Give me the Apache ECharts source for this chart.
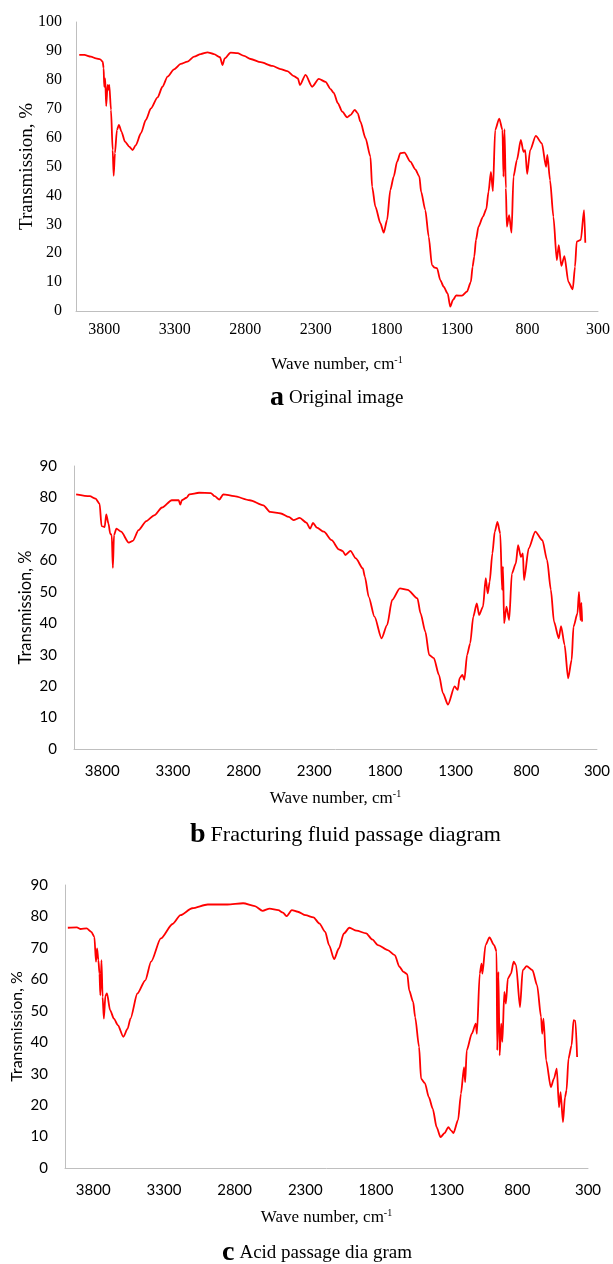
<!DOCTYPE html>
<html><head><meta charset="utf-8">
<script src="https://cdn.jsdelivr.net/npm/echarts@6/dist/echarts.min.js"></script>
<style>html,body{margin:0;padding:0;background:#fff;}#c{width:613px;height:1264px;}</style>
</head><body><div id="c"></div>
<script>
// ---- data (wavenumber cm-1, transmission %) ----
const waveA = [3977,3941,3894,3859,3828,3811,3804,3800,3793,3786,3776,3769,3764,3752,3740,3733,3724,3710,3696,3677,3653,3623,3599,3576,3540,3505,3469,3422,3387,3351,3305,3257,3210,3163,3116,3068,3022,2979,2962,2946,2904,2856,2809,2762,2691,2608,2550,2502,2456,2427,2413,2373,2326,2279,2231,2196,2173,2144,2113,2078,2055,2024,2003,1984,1948,1913,1901,1878,1842,1819,1795,1772,1748,1724,1701,1672,1630,1595,1566,1554,1524,1500,1477,1458,1441,1418,1394,1366,1347,1328,1305,1264,1229,1201,1189,1177,1165,1147,1116,1092,1076,1059,1045,1029,1000,977,970,963,953,946,930,913,899,875,847,828,816,802,781,741,698,668,659,640,616,592,578,560,538,510,479,463,451,422,399,390];
const transA = [88.6,88.6,88,87.4,87.1,86.3,84,77.6,80.5,70.9,78.2,76.5,78.2,69.6,55.7,46.8,54.6,62.6,64.4,62,58.6,56.9,55.7,57.4,61.5,66.1,70.1,73.9,77.6,81.1,83.6,85.5,86.3,88,88.9,89.5,88.9,87.8,85.1,87.4,89.4,89.2,88.3,87.2,86.1,84.8,83.7,83,81.3,80.5,78.2,81.7,77.6,80.3,79.3,76.8,75.5,71.9,69,67,67.8,69.6,68.4,65.5,59.8,53.4,43,36.1,30.3,27.1,31.5,41.9,46.5,51.7,54.6,54.8,51.7,49,46.5,41.3,34.9,25.7,15.9,15,14.8,10.7,8.4,6.1,1.5,3.8,5.4,5.3,6.7,10.1,15.3,18.8,24.6,29.2,32.6,35.2,41.3,48.1,41.5,62.6,66.6,62.6,46.5,62.9,42.5,29.2,33.2,27.1,46.5,52.2,59.2,55.1,55.7,47.4,55.7,60.6,58,49.9,54,45.3,32.6,17.6,22.8,15.6,19,10.1,7.5,15.3,24,24.6,34.9,23.6];

const waveB = [3985,3888,3847,3819,3805,3783,3772,3756,3744,3733,3725,3717,3700,3667,3612,3584,3543,3488,3433,3377,3308,3259,3248,3237,3204,3184,3115,3032,3005,2972,2944,2867,2756,2660,2613,2536,2480,2447,2403,2356,2329,2309,2282,2232,2177,2127,2100,2080,2044,2006,1956,1942,1915,1874,1824,1785,1749,1694,1639,1570,1548,1514,1487,1454,1418,1390,1354,1307,1285,1272,1252,1238,1219,1197,1175,1150,1134,1106,1087,1073,1059,1040,1023,1004,984,971,965,957,940,921,902,874,858,838,824,816,783,736,686,653,626,604,570,554,529,504,479,466,438,427,416,410,405];
const transB = [81,80.4,79.6,78,70.9,70.6,74.6,71.7,68.5,68,57.6,68,70.1,69.1,65.6,66.2,69.6,72.5,74.3,76.8,79.1,79.1,77.7,79.1,79.9,81,81.5,81.4,80.4,79.3,81,80.4,79.1,77.5,75.4,74.9,73.8,72.8,73.5,72,70.1,71.9,70.4,69.1,66.4,63.5,63,61.7,63,60.6,57.4,54.8,48.4,42.1,35.2,39.4,47.4,51.1,50.6,47.9,43.1,37.3,29.9,28.9,23.6,17.8,14.1,19.9,18.8,22.5,23.6,22,29.9,33.6,42.1,46.3,42.6,45.3,54.3,49.5,53.2,62.2,69.1,72.2,68.5,50.6,58,40,45.3,41,55.8,59,64.8,61.1,62.2,53.7,63.8,69.1,66.4,60.1,50.6,40.5,35.2,39.1,33.1,22.5,28.3,38.9,43.1,50,41,46.5,40.5];

const waveC = [3980,3916,3889,3847,3814,3792,3781,3773,3764,3756,3750,3742,3734,3725,3714,3703,3681,3654,3626,3587,3557,3537,3488,3432,3391,3322,3239,3183,3100,2990,2851,2740,2657,2602,2552,2491,2458,2433,2395,2353,2298,2242,2201,2159,2132,2096,2063,2027,1988,1938,1869,1827,1786,1717,1667,1634,1606,1578,1565,1537,1523,1495,1481,1454,1426,1398,1371,1343,1315,1288,1268,1252,1219,1199,1177,1169,1158,1122,1094,1086,1066,1053,1047,1025,997,964,947,942,934,925,914,906,892,881,867,845,826,809,781,762,734,693,660,632,624,615,596,563,541,521,505,494,477,463,452,438,416,402,389,377];
const transC = [76.4,76.5,76,76.2,75.1,73.5,65.6,69.8,66.1,61.8,54.9,66.1,54.4,47.5,54.9,55.5,50.2,47.5,45.4,41.7,44.3,47.5,55.5,59.7,65.6,73,77.6,80.4,82.6,83.8,83.8,84.2,83.3,81.8,82.5,82,81.2,80.1,82,81.5,80.4,79.7,77.8,75.1,70.9,66.4,69.8,74.6,76.4,75.5,74.6,72.7,70.9,69.3,67.7,64,62.4,61.6,56.5,52.8,48,38.5,28.4,27,22.5,18.8,13,9.8,11.1,13,11.9,11.1,15.3,23.6,32.1,27.3,37.4,42.7,45.9,42.7,61.8,65,61.8,70.9,73.3,70.9,68.8,37.4,62.4,35.8,45.9,40.1,56,52.3,60.3,61.8,65.6,64.5,51.2,62.9,64.2,62.9,58.1,48,42.7,47.5,34.2,25.7,28.4,31.6,19.3,24.1,14.6,22.5,24.7,34.8,39,47,46.8,35.3];

const xTickLabels = [3800,3300,2800,2300,1800,1300,800,300];
const captions = [['a','Original image'],['b','Fracturing fluid passage diagram'],['c','Acid passage dia gram']];
const yMax = [100, 90, 90];

// ---- layout ----
const SERIF = 'Liberation Serif';
const SANS = 'Lato';
const panels = [
  {grid:{left:76,right:15,top:22,height:289}, font:SERIF, tickSize:16, yLabelMargin:14, xLabelMargin:11, yNameFont:SERIF, yNameSize:19, yNameGap:39, xNameGap:44, capLeft:270, capTop:384, capSize:19},
  {grid:{left:74,right:16,top:466,height:283}, font:SANS, tickSize:15, yLabelMargin:17, xLabelMargin:15, yNameFont:SANS, yNameSize:16.5, yNameGap:40, xNameGap:40, capLeft:190, capTop:821, capSize:22},
  {grid:{left:65,right:25,top:885,height:283}, font:SANS, tickSize:15, yLabelMargin:17, xLabelMargin:15, yNameFont:SANS, yNameSize:16, yNameGap:40, xNameGap:40, capLeft:222, capTop:1239, capSize:19}
];
const waves = [waveA, waveB, waveC];
const trans = [transA, transB, transC];

const option = {
  animation:false,
  backgroundColor:'#fff',
  title: panels.map((p,i)=>({
    text:'{b|'+captions[i][0]+'} {t|'+captions[i][1]+'}',
    left:p.capLeft, top:p.capTop, padding:0,
    textStyle:{fontWeight:'normal',rich:{
      b:{fontFamily:SERIF,fontWeight:'bold',fontSize:28,color:'#000'},
      t:{fontFamily:SERIF,fontWeight:'normal',fontSize:p.capSize,color:'#000'}
    }}
  })),
  grid: panels.map(p=>p.grid),
  xAxis: panels.map((p,i)=>({
    gridIndex:i, type:'value', inverse:true, min:300, max:4000, interval:100,
    axisLine:{show:true,lineStyle:{color:'#bfbfbf',width:1}},
    axisTick:{show:false}, splitLine:{show:false},
    axisLabel:{fontFamily:p.font,fontSize:p.tickSize,color:'#000',margin:p.xLabelMargin,
      showMaxLabel:false,
      formatter:v=> xTickLabels.indexOf(v)>=0 ? String(v) : ''},
    name:'Wave number, cm{s|-1}', nameLocation:'middle', nameGap:p.xNameGap,
    nameTextStyle:{fontFamily:SERIF,fontSize:17,color:'#000',
      rich:{s:{fontFamily:SERIF,fontSize:10,color:'#000',padding:[0,0,9,0]}}}
  })),
  yAxis: panels.map((p,i)=>({
    gridIndex:i, type:'value', min:0, max:yMax[i], interval:10,
    axisLine:{show:true,lineStyle:{color:'#bfbfbf',width:1}},
    axisTick:{show:false}, splitLine:{show:false},
    axisLabel:{fontFamily:p.font,fontSize:p.tickSize,color:'#000',margin:p.yLabelMargin},
    name:'Transmission, %', nameLocation:'middle', nameGap:p.yNameGap, nameRotate:90,
    nameMoveOverlap:false,
    nameTextStyle:{fontFamily:p.yNameFont,fontSize:p.yNameSize,color:'#000'}
  })),
  series: panels.map((p,i)=>({
    type:'line', xAxisIndex:i, yAxisIndex:i, showSymbol:false, symbol:'none',
    smooth:0.25, smoothMonotone:'x',
    lineStyle:{color:'#ff0000',width:1.8},
    data: waves[i].map((w,k)=>[w, trans[i][k]])
  }))
};
echarts.init(document.getElementById('c'),null,{renderer:'canvas'}).setOption(option);
</script>
</body></html>
